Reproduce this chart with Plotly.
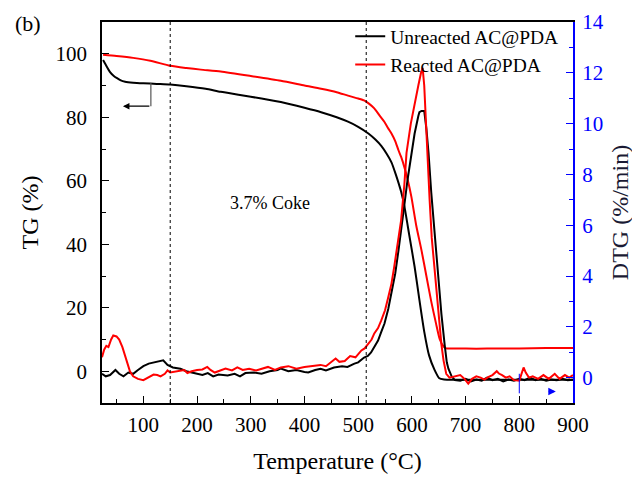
import plotly.graph_objects as go

# ---------------- data ----------------
# TG, unreacted AC@PDA (black, left axis, %)
t_tg_unreacted = [25, 30, 38, 45, 51, 58, 66, 81, 100, 125, 150, 180, 216, 244, 280, 320, 356,
                  400, 431, 460, 481, 500, 519, 532, 543, 553, 562, 570, 580, 586, 595, 605,
                  614, 623, 632, 642, 651, 660, 680, 720, 760, 800, 850, 900]
tg_unreacted = [98.0, 96.5, 94.2, 93.0, 92.3, 91.6, 91.2, 90.9, 90.7, 90.5, 90.3, 89.8, 89.0,
                88.0, 87.0, 85.9, 84.8, 83.0, 81.6, 80.0, 78.6, 77.0, 74.9, 73.0, 71.0, 68.5,
                65.8, 62.0, 56.5, 52.0, 43.0, 33.0, 22.5, 12.5, 5.0, 0.5, -2.2, -2.6, -2.7,
                -2.7, -2.7, -2.7, -2.7, -2.7]

# TG, reacted AC@PDA (red, left axis, %)
t_tg_reacted = [25, 50, 81, 113, 150, 180, 207, 244, 300, 356, 400, 431, 460, 481, 500, 511,
                520, 530, 540, 549, 556, 562, 569, 575, 580, 586, 592, 599, 608, 618, 627, 636,
                645, 652, 659, 664, 680, 720, 760, 800, 850, 900]
tg_reacted = [99.7, 99.3, 98.7, 97.8, 96.2, 95.5, 95.0, 94.4, 93.0, 91.5, 90.0, 89.0, 87.9,
              86.8, 85.9, 85.3, 84.3, 82.8, 80.5, 78.5, 76.5, 74.9, 72.5, 69.6, 67.5, 64.3,
              60.5, 55.0, 46.0, 38.0, 30.0, 22.0, 15.0, 10.0, 7.8, 7.2, 7.2, 7.1, 7.2, 7.2,
              7.3, 7.3]

# DTG, unreacted AC@PDA (black, right axis, %/min)
t_dtg_unreacted = [23, 30, 38, 48, 55, 63, 72, 81, 90, 100, 110, 119, 128, 137, 145, 155, 169,
                   180, 190, 200, 210, 220, 230, 240, 257, 270, 280, 290, 306, 320, 335, 350,
                   356, 370, 385, 400, 407, 420, 430, 440, 455, 470, 480, 493, 500, 511, 518,
                   524, 530, 537, 543, 549, 556, 562, 569, 575, 580, 586, 592, 599, 605, 612,
                   614, 618, 623, 627, 631, 636, 642, 646, 651, 655, 661, 665, 668, 674, 680,
                   690, 700, 710, 720, 730, 740, 750, 760, 770, 780, 790, 800, 810, 820, 830,
                   840, 850, 860, 870, 880, 890, 900]
dtg_unreacted = [0.15, 0.05, 0.10, 0.30, 0.15, 0.05, 0.20, 0.15, 0.30, 0.45, 0.55, 0.60, 0.62,
                 0.68, 0.50, 0.40, 0.35, 0.25, 0.20, 0.15, 0.10, 0.18, 0.05, 0.12, 0.08, 0.15,
                 0.05, 0.18, 0.20, 0.15, 0.25, 0.30, 0.36, 0.25, 0.30, 0.22, 0.20, 0.30, 0.35,
                 0.28, 0.40, 0.45, 0.42, 0.55, 0.60, 0.79, 0.85, 0.99, 1.20, 1.46, 1.80, 2.13,
                 2.70, 3.30, 4.10, 5.00, 5.90, 6.80, 7.80, 8.85, 9.60, 10.30, 10.45, 10.50,
                 10.50, 9.80, 8.85, 7.30, 5.80, 4.80, 3.30, 2.50, 1.30, 0.60, 0.35, 0.05, -0.10,
                 -0.12, -0.05, -0.15, -0.08, -0.12, 0.00, -0.10, -0.05, -0.15, -0.08, -0.12,
                 -0.05, -0.10, 0.00, -0.10, -0.05, -0.12, -0.08, -0.10, -0.05, -0.10, -0.08]

# DTG, reacted AC@PDA (red, right axis, %/min)
t_dtg_reacted = [23, 27, 31, 35, 40, 44, 50, 55, 61, 66, 70, 75, 81, 90, 100, 110, 119, 126,
                 132, 140, 145, 150, 160, 169, 176, 182, 190, 200, 210, 219, 225, 233, 240, 253,
                 265, 275, 285, 297, 310, 320, 332, 345, 356, 370, 385, 400, 418, 430, 440, 450,
                 458, 465, 475, 485, 495, 506, 512, 519, 525, 530, 537, 543, 550, 556, 562, 567,
                 575, 580, 586, 590, 598, 605, 612, 617, 620, 623, 628, 633, 637, 642, 646, 651,
                 655, 659, 664, 670, 680, 690, 698, 705, 712, 720, 728, 735, 742, 750, 758, 762,
                 768, 775, 782, 790, 800, 805, 808, 812, 818, 825, 835, 845, 855, 866, 875, 885,
                 893, 900]
dtg_reacted = [0.80, 1.10, 1.25, 1.20, 1.50, 1.66, 1.62, 1.50, 1.20, 0.85, 0.55, 0.25, 0.05,
               -0.05, -0.10, 0.00, 0.12, 0.10, 0.05, 0.15, 0.28, 0.20, 0.25, 0.28, 0.30, 0.18,
               0.25, 0.30, 0.32, 0.42, 0.30, 0.20, 0.25, 0.36, 0.28, 0.40, 0.30, 0.35, 0.28,
               0.35, 0.42, 0.30, 0.40, 0.45, 0.35, 0.42, 0.47, 0.50, 0.45, 0.60, 0.75, 0.62,
               0.65, 0.85, 0.80, 1.07, 1.15, 1.34, 1.50, 1.74, 1.95, 2.25, 2.65, 3.16, 3.70,
               4.35, 5.40, 6.20, 7.60, 8.85, 10.00, 10.80, 11.50, 12.00, 12.20, 11.50, 9.00,
               7.00, 5.50, 4.35, 3.20, 2.00, 1.30, 0.67, 0.15, 0.00, 0.05, 0.10, -0.05, -0.24,
               -0.05, 0.05, 0.00, -0.08, 0.02, 0.10, 0.25, 0.16, 0.10, 0.00, 0.05, -0.10, -0.12,
               0.20, 0.40, 0.20, 0.00, 0.05, -0.05, 0.10, -0.05, 0.15, -0.05, 0.10, 0.00, 0.10]

series_names = ["Unreacted AC@PDA", "Reacted AC@PDA"]
x_tick_values = [100, 200, 300, 400, 500, 600, 700, 800, 900]
tg_tick_values = [0, 20, 40, 60, 80, 100]
dtg_tick_values = [0, 2, 4, 6, 8, 10, 12, 14]
marker_temps = [150, 515]
annotation_text = "3.7% Coke"

# ---------------- figure ----------------
FONT = "Times New Roman, Liberation Serif, serif"
BLACK, RED, BLUE = "#000000", "#ff0000", "#0000ff"

fig = go.Figure()
fig.add_trace(go.Scatter(x=t_tg_unreacted, y=tg_unreacted, name=series_names[0], mode="lines",
                         line=dict(color=BLACK, width=2, shape="spline", smoothing=0.6)))
fig.add_trace(go.Scatter(x=t_tg_reacted, y=tg_reacted, name=series_names[1], mode="lines",
                         line=dict(color=RED, width=2, shape="spline", smoothing=0.6)))
fig.add_trace(go.Scatter(x=t_dtg_unreacted, y=dtg_unreacted, yaxis="y2", mode="lines",
                         showlegend=False, line=dict(color=BLACK, width=2)))
fig.add_trace(go.Scatter(x=t_dtg_reacted, y=dtg_reacted, yaxis="y2", mode="lines",
                         showlegend=False, line=dict(color=RED, width=2)))

for t in marker_temps:
    fig.add_shape(type="line", xref="x", yref="paper", x0=t, x1=t, y0=0, y1=1,
                  line=dict(color=BLACK, width=1, dash="dot"))

# left-pointing arrow (TG -> left axis)
fig.add_shape(type="line", xref="x", yref="y", x0=114, x1=114, y0=90.8, y1=83.5,
              line=dict(color="#555555", width=1.2))
fig.add_annotation(x=62, y=83.5, ax=114, ay=83.5, xref="x", yref="y", axref="x", ayref="y",
                   text="", showarrow=True, arrowhead=2, arrowsize=1, arrowwidth=1.3,
                   arrowcolor=BLACK)
# right-pointing blue marker (DTG -> right axis)
fig.add_shape(type="line", xref="x", yref="y2", x0=800, x1=800, y0=0.15, y1=-0.62,
              line=dict(color=BLUE, width=1))
fig.add_annotation(x=868, y=-0.55, ax=852, ay=-0.55, xref="x", yref="y2", axref="x", ayref="y2",
                   text="", showarrow=True, arrowhead=2, arrowsize=1, arrowwidth=1.5,
                   arrowcolor=BLUE)

fig.add_annotation(x=336, y=53, xref="x", yref="y", text=annotation_text, showarrow=False,
                   font=dict(family=FONT, size=18, color=BLACK))
fig.add_annotation(x=-0.19, y=0.995, xref="paper", yref="paper", text="(b)", showarrow=False,
                   xanchor="left", yanchor="middle", font=dict(family=FONT, size=22, color=BLACK))

# the page body adds an 8 px offset; margins are chosen so the plot area lands at
# x 102..573, y 22..403 in the screenshot
fig.update_layout(
    width=640, height=479,
    margin=dict(l=94, r=75, t=14, b=84, autoexpand=False),
    paper_bgcolor="white", plot_bgcolor="white",
    font=dict(family=FONT, size=21, color=BLACK),
    showlegend=True,
    legend=dict(x=0.527, y=1.013, xanchor="left", yanchor="top", bgcolor="rgba(0,0,0,0)",
                font=dict(family=FONT, size=19.5, color=BLACK), tracegroupgap=0),
    xaxis=dict(range=[23, 900], tickvals=x_tick_values, ticks="inside", ticklen=7, tickwidth=1,
               tickcolor=BLACK, showline=True, linecolor=BLACK, linewidth=1.5, mirror=True,
               showgrid=False, zeroline=False, ticklabelstandoff=2,
               minor=dict(ticks="inside", ticklen=4, dtick=50, tick0=0, tickcolor=BLACK),
               title=dict(text="Temperature (°C)", font=dict(family=FONT, size=24), standoff=16),
               automargin=False),
    yaxis=dict(range=[-10, 110], tickvals=tg_tick_values, ticks="inside", ticklen=7, tickwidth=1,
               tickcolor=BLACK, showline=True, linecolor=BLACK, linewidth=1.5, showgrid=False,
               zeroline=False, ticklabelstandoff=9,
               minor=dict(ticks="inside", ticklen=4, dtick=10, tick0=0, tickcolor=BLACK),
               title=dict(text="TG (%)", font=dict(family=FONT, size=24), standoff=10),
               automargin=False),
    yaxis2=dict(range=[-1, 14], tickvals=dtg_tick_values, overlaying="y", side="right",
                ticks="inside", ticklen=7, tickwidth=1, tickcolor=BLUE, showline=True,
                linecolor=BLUE, linewidth=2, showgrid=False, zeroline=False,
                tickfont=dict(color=BLUE), ticklabelstandoff=3,
                minor=dict(ticks="inside", ticklen=4, dtick=1, tick0=0, tickcolor=BLUE),
                title=dict(text="DTG (%/min)", font=dict(family=FONT, size=24, color="#1a1a33"),
                           standoff=8),
                automargin=False),
)

fig.write_html("out.html")
